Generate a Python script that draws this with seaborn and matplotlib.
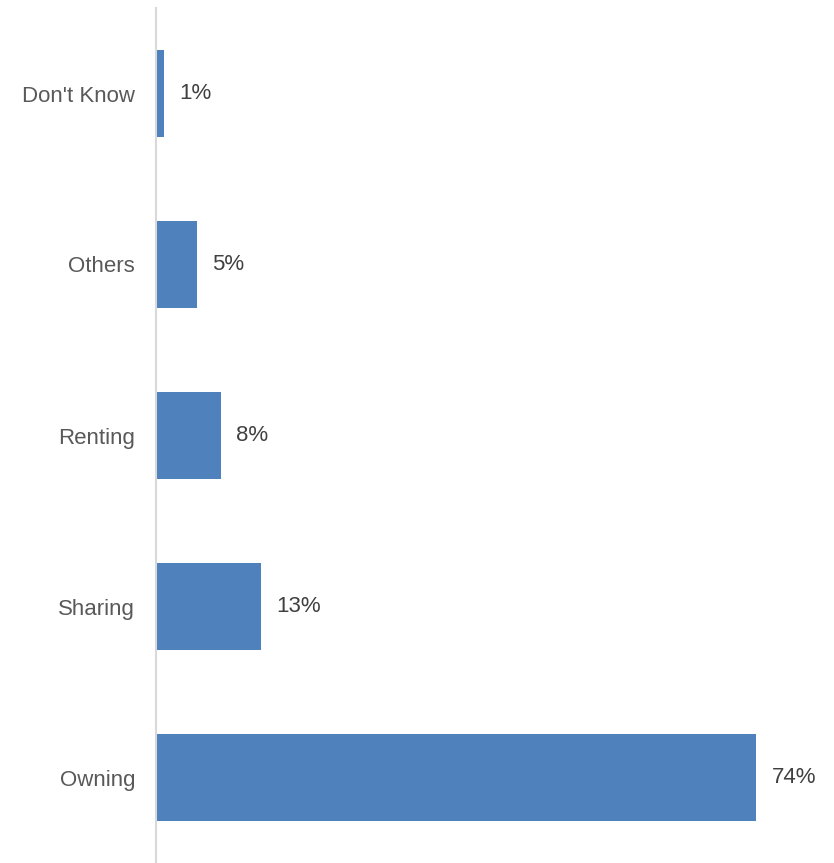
import numpy as np
import pandas as pd
import matplotlib
matplotlib.use("Agg")
import matplotlib.pyplot as plt
import seaborn as sns

categories = ["Don't Know", "Others", "Renting", "Sharing", "Owning"]
shares = [1, 5, 8, 13, 74]
labels = ["1%", "5%", "8%", "13%", "74%"]

df = pd.DataFrame({"Category": categories, "Share": shares})

sns.set_style("white")
plt.rcParams["font.family"] = ["Liberation Sans", "DejaVu Sans"]

fig = plt.figure(figsize=(8.34, 8.63), dpi=100)
ax = fig.add_axes([156 / 834, 0, 1 - 156 / 834, 1 - 8 / 863])

sns.barplot(data=df, x="Share", y="Category", orient="h", color="#4F81BD",
            saturation=1, width=0.51, linewidth=0, ax=ax)

ax.bar_label(ax.containers[0], labels=labels, padding=11, fontsize=16, color="#404040")

ax.set_xlim(0, (834 - 156) / 8.11)
ax.set_ylim(4.5, -0.5)
ax.set_xlabel("")
ax.set_ylabel("")
ax.set_xticks([])
ax.tick_params(axis="y", length=0, pad=15, labelsize=16, labelcolor="#595959")
for s in ["top", "right", "bottom"]:
    ax.spines[s].set_visible(False)
ax.spines["left"].set_color("#D9D9D9")
ax.spines["left"].set_linewidth(1.5)

fig.savefig("out.png", dpi=100)
